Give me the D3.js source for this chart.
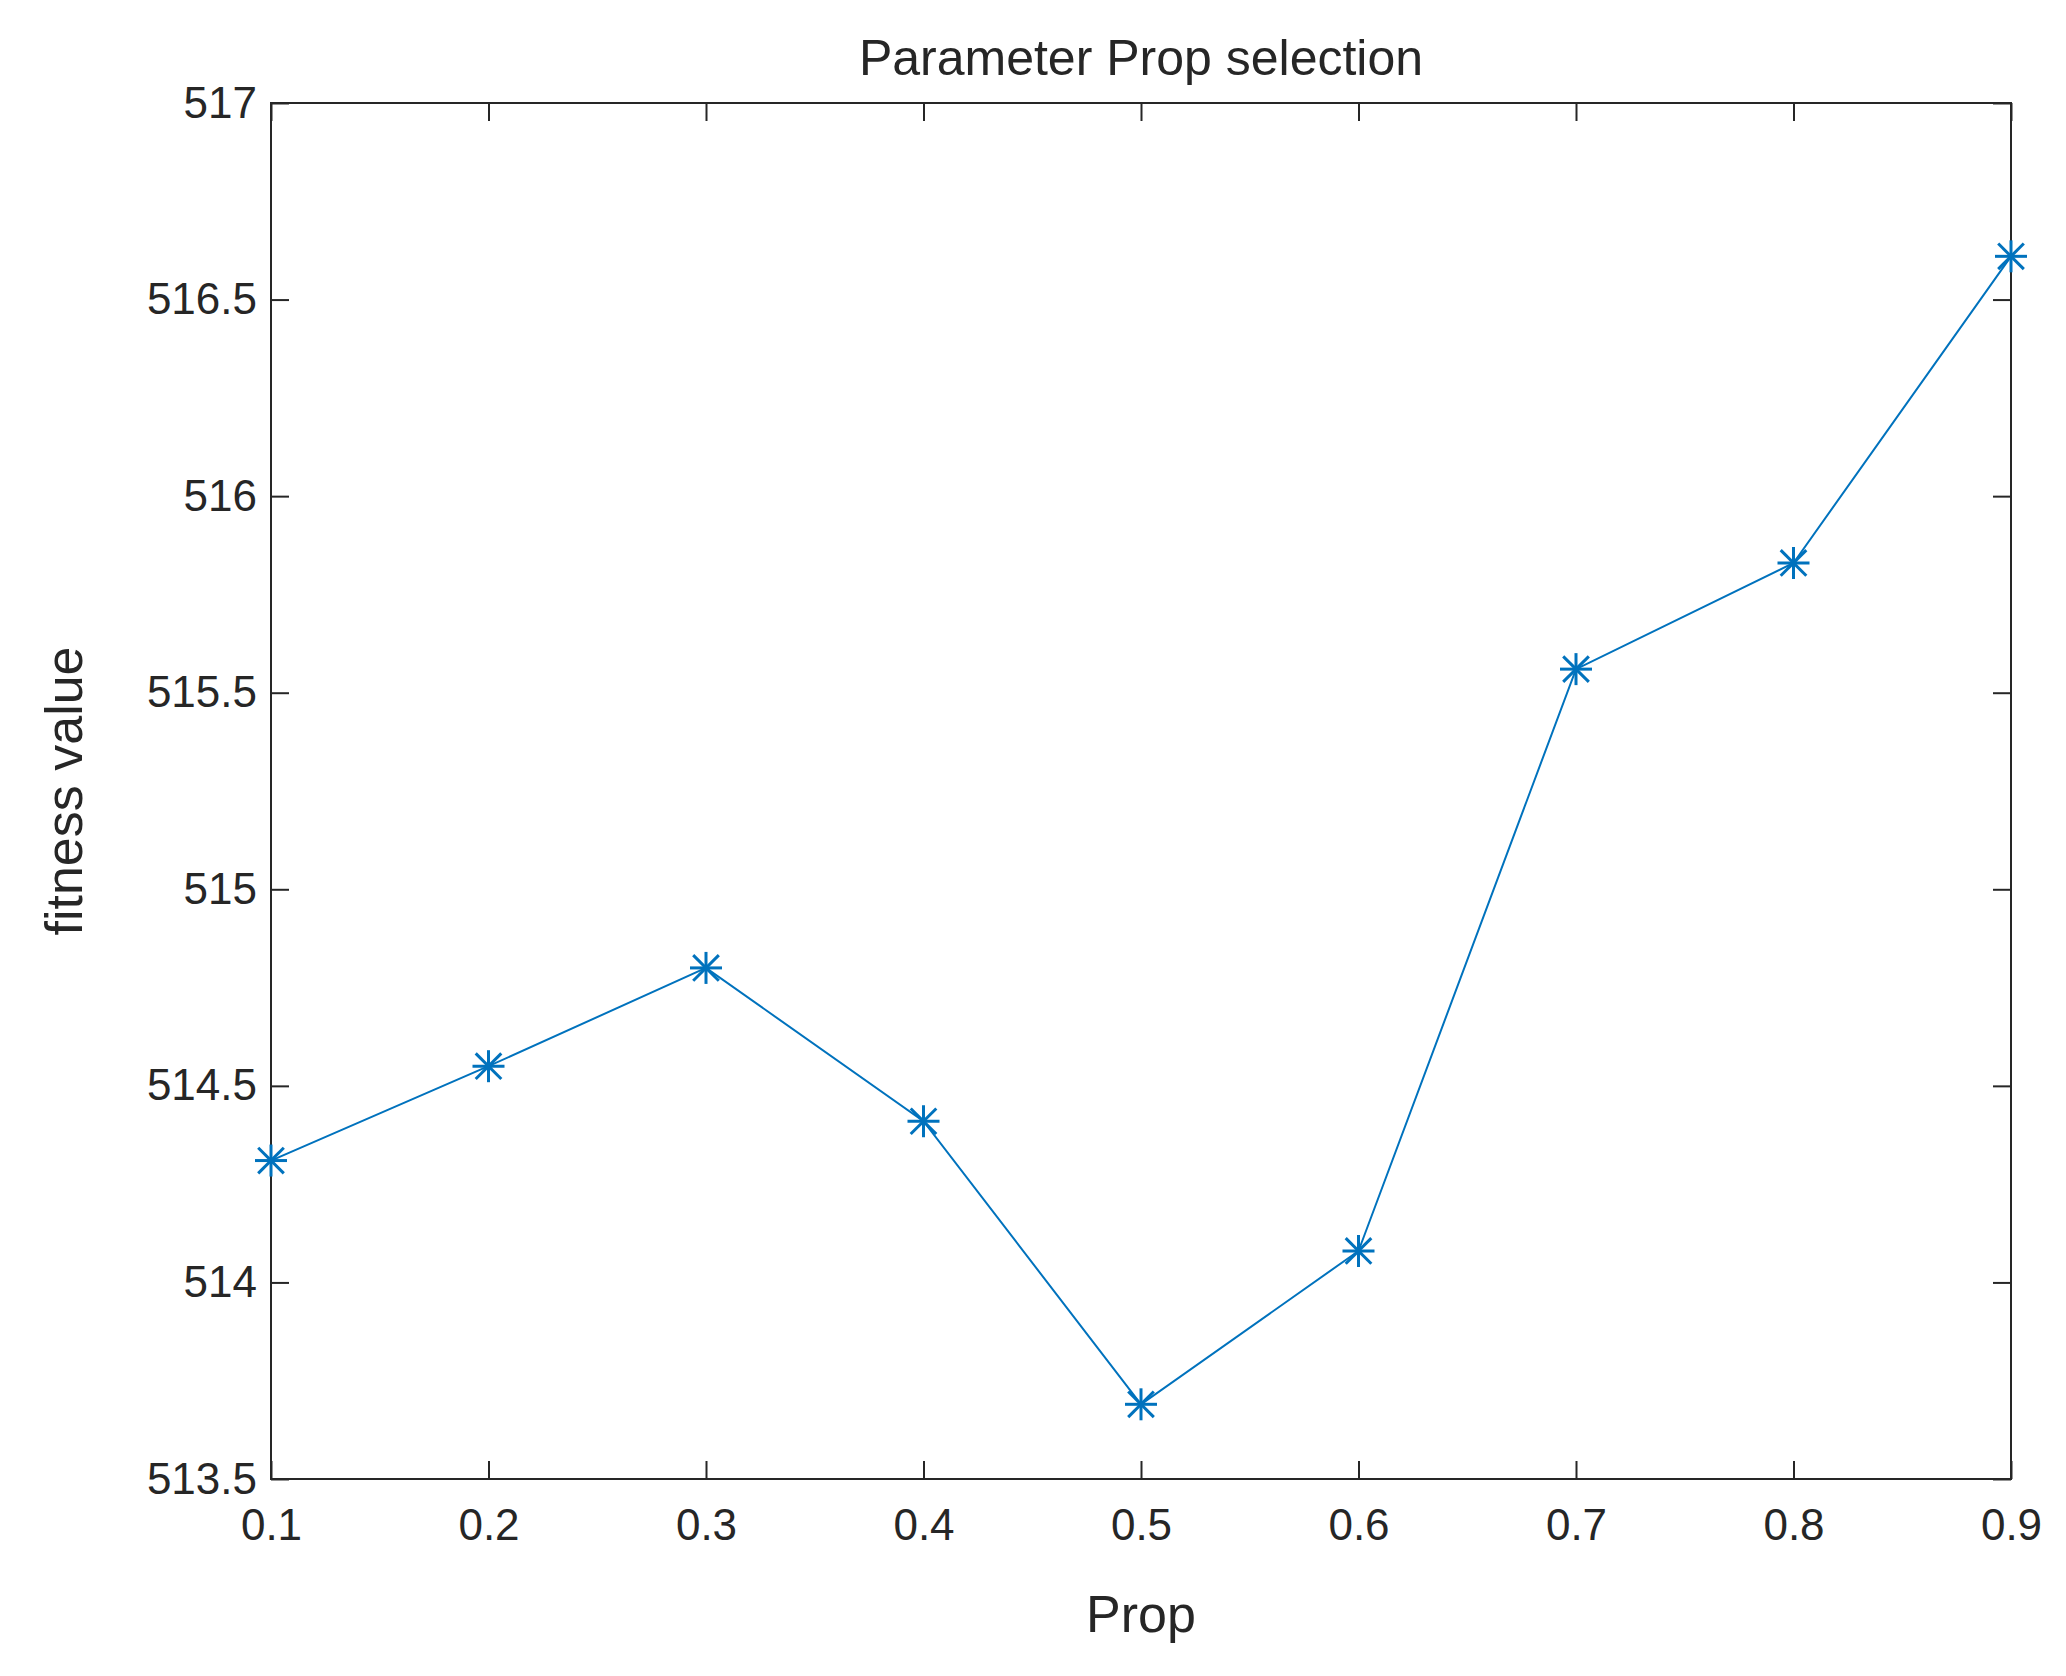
<!DOCTYPE html>
<html><head><meta charset="utf-8">
<script src="https://cdn.jsdelivr.net/npm/d3@7"></script>
<style>body{margin:0;background:#fff}text{font-family:"Liberation Sans",Arial,sans-serif;fill:#262626}</style>
</head><body><svg id="c" width="2066" height="1676"></svg>
<script>
const props=[0.1,0.2,0.3,0.4,0.5,0.6,0.7,0.8,0.9];
const fitness=[514.31,514.55,514.80,514.41,513.69,514.08,515.56,515.83,516.61];
const yTicks=[513.5,514,514.5,515,515.5,516,516.5,517];
const L=271,R=2011,T=103,B=1479;
const svg=d3.select("#c");
const x=d3.scaleLinear().domain([0.1,0.9]).range([L,R]);
const y=d3.scaleLinear().domain([513.5,517]).range([B,T]);
const tl=18;
const fs=44;
svg.append("g").attr("transform",`translate(0,${B})`).call(d3.axisBottom(x).tickValues(props).tickSize(-tl).tickPadding(30).tickFormat(d3.format(".1f")))
 .call(g=>{g.select(".domain").remove();g.selectAll("text").style("font-size",fs+"px");});
svg.append("g").attr("transform",`translate(0,${T})`).call(d3.axisTop(x).tickValues(props).tickSize(-tl).tickFormat(""))
 .call(g=>g.select(".domain").remove());
svg.append("g").attr("transform",`translate(${L},0)`).call(d3.axisLeft(y).tickValues(yTicks).tickSize(-tl).tickPadding(14).tickFormat(d=>d))
 .call(g=>{g.select(".domain").remove();g.selectAll("text").style("font-size",fs+"px");});
svg.append("g").attr("transform",`translate(${R},0)`).call(d3.axisRight(y).tickValues(yTicks).tickSize(-tl).tickFormat(""))
 .call(g=>g.select(".domain").remove());
svg.selectAll(".tick line").attr("stroke","#262626").attr("stroke-width",2);
svg.append("rect").attr("x",L).attr("y",T).attr("width",R-L).attr("height",B-T).attr("fill","none").attr("stroke","#262626").attr("stroke-width",2);
const c="#0072BD";
svg.append("path").datum(props.map((p,i)=>[p,fitness[i]])).attr("fill","none").attr("stroke",c).attr("stroke-width",2)
 .attr("d",d3.line().x(d=>x(d[0])).y(d=>y(d[1])));
const s=16;
const m=svg.selectAll(".m").data(props).enter().append("g").attr("transform",(p,i)=>`translate(${x(p)},${y(fitness[i])})`);
[[0,-s,0,s],[-s,0,s,0],[-s*0.8,-s*0.8,s*0.8,s*0.8],[-s*0.8,s*0.8,s*0.8,-s*0.8]].forEach(a=>{
 m.append("line").attr("x1",a[0]).attr("y1",a[1]).attr("x2",a[2]).attr("y2",a[3]).attr("stroke",c).attr("stroke-width",3);
});
svg.append("text").attr("x",(L+R)/2).attr("y",75).attr("text-anchor","middle").style("font-size","50px").text("Parameter Prop selection");
svg.append("text").attr("x",(L+R)/2).attr("y",1632).attr("text-anchor","middle").style("font-size","52px").text("Prop");
svg.append("text").attr("transform",`translate(82,${(T+B)/2}) rotate(-90)`).attr("text-anchor","middle").style("font-size","52px").text("fitness value");
</script></body></html>
